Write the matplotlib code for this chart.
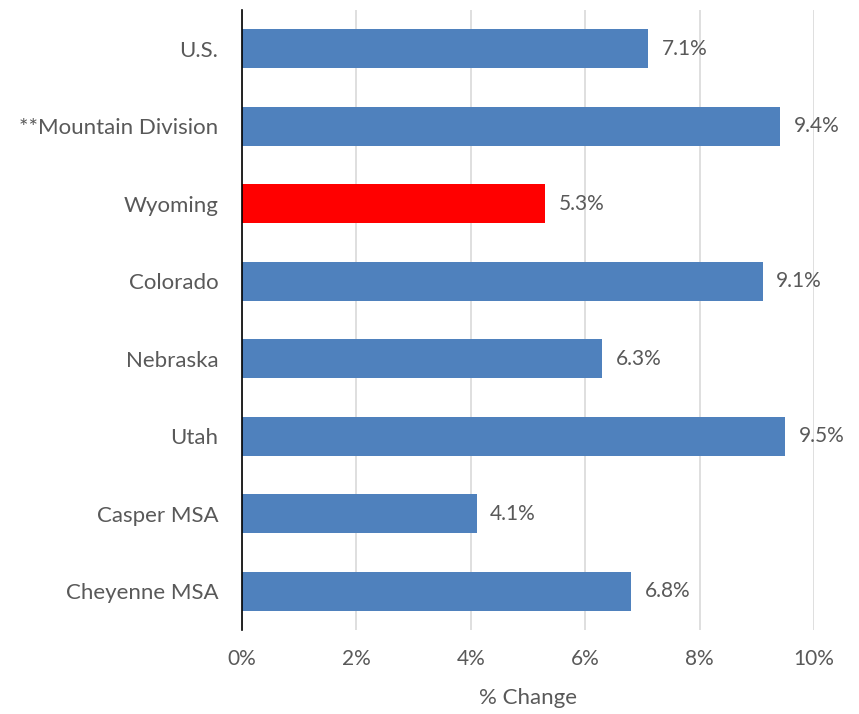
import matplotlib
matplotlib.use("Agg")
import matplotlib.pyplot as plt
from matplotlib.ticker import FuncFormatter

categories = ["U.S.", "**Mountain Division", "Wyoming", "Colorado", "Nebraska",
              "Utah", "Casper MSA", "Cheyenne MSA"]
values = [7.1, 9.4, 5.3, 9.1, 6.3, 9.5, 4.1, 6.8]
highlight = "Wyoming"
xticks = [0, 2, 4, 6, 8, 10]

plt.rcParams['font.family'] = ['Lato', 'DejaVu Sans']
text_color = "#595959"

fig = plt.figure(figsize=(8.59, 7.14), dpi=100)
ax = fig.add_axes([242/859, 1-630/714, (814-242)/859, 620/714])

ypos = list(range(len(categories)))
colors = ["#FF0000" if c == highlight else "#4F81BD" for c in categories]
bars = ax.barh(ypos, values, height=0.5, color=colors, zorder=3)
for b, v in zip(bars, values):
    ax.text(v + 0.24, b.get_y() + b.get_height()/2, f"{v:.1f}%", va="center", ha="left",
            fontsize=15, color=text_color)

ax.set_ylim(len(categories) - 0.5, -0.5)
ax.set_yticks(ypos)
ax.set_yticklabels(categories, fontsize=16, color=text_color)
ax.set_xlim(0, 10)
ax.set_xticks(xticks)
ax.xaxis.set_major_formatter(FuncFormatter(lambda x, p: f"{x:.0f}%"))
ax.tick_params(axis="x", labelsize=15, labelcolor=text_color, length=0, pad=14)
ax.tick_params(axis="y", length=0, pad=17)
ax.grid(axis="x", color="#D9D9D9", linewidth=1.2, zorder=0)
for s in ["top", "right", "bottom"]:
    ax.spines[s].set_visible(False)
ax.spines["left"].set_color("black")
ax.spines["left"].set_linewidth(1.2)
ax.spines["left"].set_zorder(4)
ax.set_xlabel("% Change", fontsize=16, color=text_color, labelpad=13)

fig.savefig("out.png", dpi=100)
